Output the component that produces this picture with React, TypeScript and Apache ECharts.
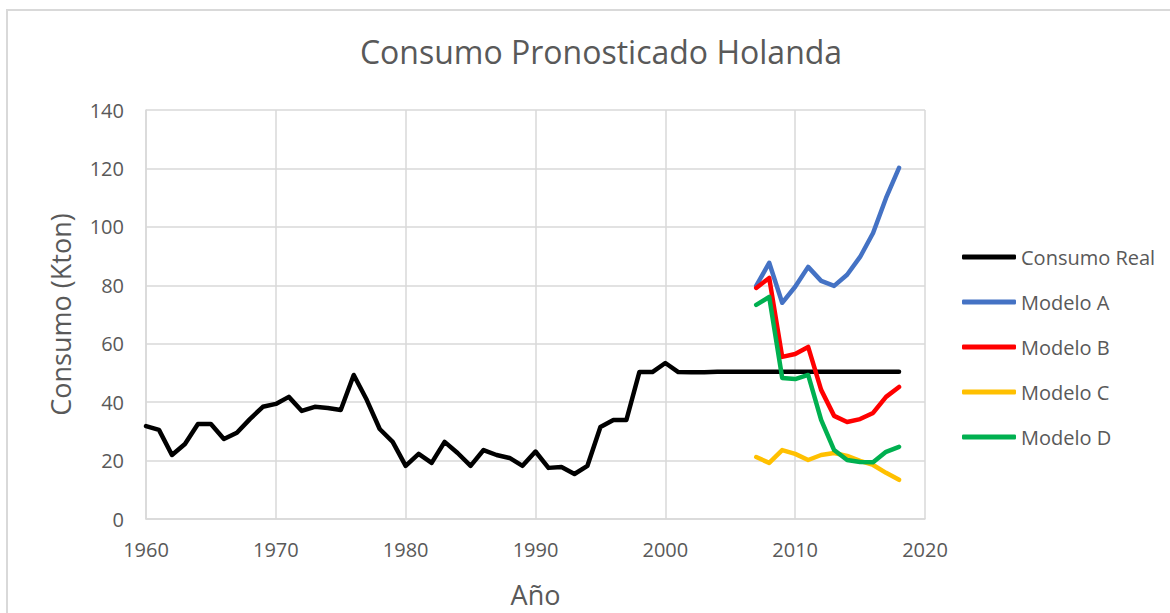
import React, { useEffect, useRef } from "react";
import * as echarts from "echarts";

const titleText = "Consumo Pronosticado Holanda";
const xAxisName = "Año";
const yAxisName = "Consumo (Kton)";

const realStartYear = 1960;
const realValues = [
  31.8, 30.5, 21.9, 25.7, 32.5, 32.5, 27.4, 29.5, 34.2, 38.4,
  39.4, 41.8, 37.0, 38.4, 38.0, 37.3, 49.3, 40.8, 30.8, 26.4,
  18.2, 22.3, 19.2, 26.4, 22.6, 18.2, 23.6, 21.9, 20.9, 18.2,
  23.1, 17.5, 17.8, 15.4, 18.2, 31.5, 33.9, 33.9, 50.3, 50.3,
  53.4, 50.3, 50.2, 50.2, 50.4, 50.4, 50.4, 50.4, 50.4, 50.4,
  50.4, 50.4, 50.4, 50.4, 50.4, 50.4, 50.4, 50.4, 50.4,
];

const modelStartYear = 2007;
const modeloA = [79.8, 87.7, 74.0, 79.5, 86.3, 81.5, 79.8, 83.6, 89.7, 97.9, 109.9, 120.2];
const modeloB = [79.1, 82.5, 55.5, 56.5, 58.9, 44.2, 35.3, 33.2, 34.2, 36.3, 41.8, 45.2];
const modeloC = [21.2, 19.2, 23.6, 22.3, 20.2, 21.9, 22.6, 21.6, 19.9, 18.5, 15.8, 13.4];
const modeloD = [73.3, 76.0, 48.3, 47.9, 49.3, 33.9, 23.6, 20.2, 19.5, 19.4, 23.0, 24.7];

const seriesNames = ["Consumo Real", "Modelo A", "Modelo B", "Modelo C", "Modelo D"];
const seriesColors = ["#000000", "#4472C4", "#FF0000", "#FFC000", "#00B050"];

const toPairs = (start: number, vals: number[]) => vals.map((v, i) => [start + i, v]);

const FONT = "'Open Sans', sans-serif";
const TEXT = "#595959";
const GRID = "#d9d9d9";

export default function App() {
  const ref = useRef<HTMLDivElement>(null);
  useEffect(() => {
    document.body.style.margin = "0";
    if (!ref.current) return;
    const chart = echarts.init(ref.current, undefined, { renderer: "svg" });
    const dataSets = [
      toPairs(realStartYear, realValues),
      toPairs(modelStartYear, modeloA),
      toPairs(modelStartYear, modeloB),
      toPairs(modelStartYear, modeloC),
      toPairs(modelStartYear, modeloD),
    ];
    chart.setOption({
      animation: false,
      backgroundColor: "#ffffff",
      textStyle: { fontFamily: FONT },
      title: {
        text: titleText,
        left: 596,
        textAlign: "center",
        top: 30,
        textStyle: { fontFamily: FONT, fontSize: 32, fontWeight: "normal", color: TEXT },
      },
      graphic: [
        {
          type: "rect",
          z: -10,
          shape: { x: 7, y: 10, width: 1300, height: 800 },
          style: { fill: "none", stroke: GRID, lineWidth: 2 },
          silent: true,
        },
      ],
      legend: {
        orient: "vertical",
        left: 957,
        top: 242,
        itemWidth: 54,
        itemHeight: 5,
        itemGap: 25,
        icon: "roundRect",
        textStyle: { fontFamily: FONT, fontSize: 20, color: TEXT },
        data: seriesNames,
      },
      grid: { left: 146, top: 110, right: 245, bottom: 94 },
      xAxis: {
        type: "value",
        min: 1960,
        max: 2020,
        interval: 10,
        name: xAxisName,
        nameLocation: "middle",
        nameGap: 62,
        nameTextStyle: { fontFamily: FONT, fontSize: 27, color: TEXT },
        axisLine: { show: true, lineStyle: { color: GRID, width: 1.5 } },
        axisTick: { show: false },
        axisLabel: {
          fontFamily: FONT,
          fontSize: 20,
          color: TEXT,
          margin: 20,
          formatter: (v: number) => String(v),
        },
        splitLine: { show: true, lineStyle: { color: GRID, width: 1.5 } },
      },
      yAxis: {
        type: "value",
        min: 0,
        max: 140,
        interval: 20,
        name: yAxisName,
        nameLocation: "middle",
        nameGap: 72,
        nameTextStyle: { fontFamily: FONT, fontSize: 27, color: TEXT },
        axisLine: { show: true, lineStyle: { color: GRID, width: 1.5 } },
        axisTick: { show: false },
        axisLabel: { fontFamily: FONT, fontSize: 20, color: TEXT, margin: 22 },
        splitLine: { show: true, lineStyle: { color: GRID, width: 1.5 } },
      },
      series: seriesNames.map((name, i) => ({
        name,
        type: "line",
        data: dataSets[i],
        showSymbol: false,
        symbol: "none",
        color: seriesColors[i],
        lineStyle: { color: seriesColors[i], width: 4.5, cap: "round", join: "round" },
      })),
    });
    return () => chart.dispose();
  }, []);
  return <div ref={ref} style={{ width: 1170, height: 613 }} />;
}
